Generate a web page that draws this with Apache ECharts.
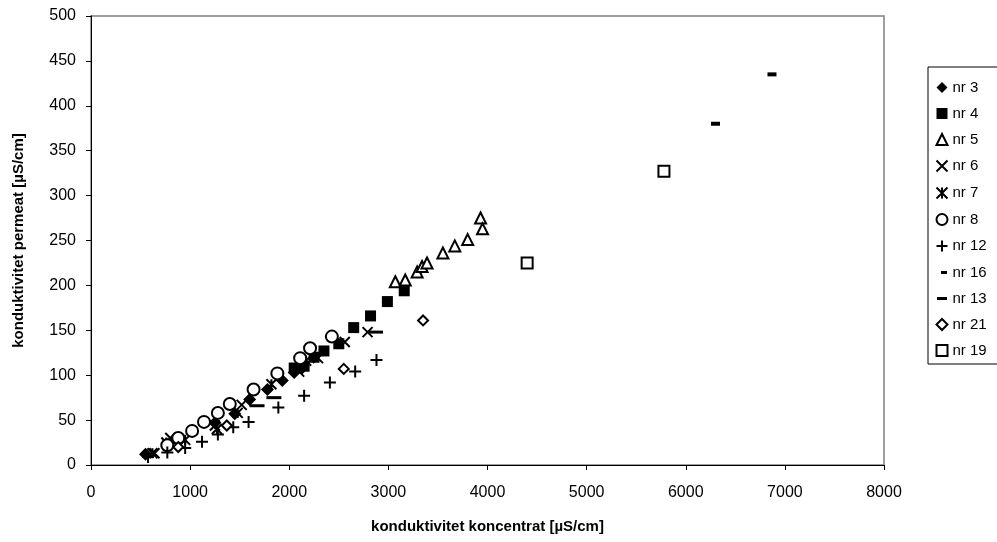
<!DOCTYPE html>
<html><head><meta charset="utf-8">
<script src="https://cdn.jsdelivr.net/npm/echarts@6/dist/echarts.min.js"></script>
<style>html,body{margin:0;padding:0;background:#fff}#c{width:997px;height:542px}</style>
</head><body><div id="c"></div>
<script>
const xTicks = [0,1000,2000,3000,4000,5000,6000,7000,8000];
const yTicks = [0,50,100,150,200,250,300,350,400,450,500];
const nr3 = [[550,12],[1250,47],[1450,57],[1600,73],[1780,84],[1930,94],[2050,103],[2130,108]];
const nr4 = [[2050,108],[2150,110],[2250,120],[2350,127],[2500,135],[2650,153],[2820,166],[2990,182],[3160,194]];
const nr5 = [[3070,204],[3170,206],[3290,215],[3340,221],[3390,225],[3550,236],[3670,244],[3800,251],[3930,275],[3950,263]];
const nr6 = [[640,13],[800,30],[1250,44],[1520,67],[2100,104],[2290,119],[2560,137],[2790,148]];
const nr7 = [[620,13],[760,25],[950,28],[1270,40],[1480,58],[1820,90],[2170,116]];
const nr8 = [[770,22],[880,30],[1020,38],[1140,48],[1280,58],[1400,68],[1640,84],[1880,102],[2110,119],[2210,130],[2430,143]];
const nr12 = [[575,9],[770,14],[950,19],[1120,26],[1280,34],[1435,42],[1590,48],[1890,64],[2150,77],[2410,92],[2665,104],[2880,117]];
const nr16 = [[6300,380],[6870,435]];
const nr13 = [[1675,66],[1845,75],[2870,148]];
const nr21 = [[880,20],[1370,44],[2550,107],[3350,161]];
const nr19 = [[4400,225],[5780,327]];

const FONT = 'Liberation Sans, Arial, sans-serif';
const filled = {color:'#000', opacity:1};
const hollow = {color:'#fff', borderColor:'#000', borderWidth:2, opacity:1};
const stroke = {color:'none', borderColor:'#000', borderWidth:2, opacity:1};
function s(name, data, symbol, size, style){
  return {name, type:'scatter', data, symbol, symbolSize:size, itemStyle:style, z:3};
}
const series = [
  s('nr 3', nr3, 'diamond', 13, filled),
  s('nr 4', nr4, 'rect', 11, filled),
  s('nr 5', nr5, 'triangle', 11, hollow),
  s('nr 6', nr6, 'path://M0,0L10,10M10,0L0,10', 10, stroke),
  s('nr 7', nr7, 'path://M0,0L10,10M10,0L0,10M5,0L5,10', 10, stroke),
  s('nr 8', nr8, 'circle', 12, hollow),
  s('nr 12', nr12, 'path://M5,0L5,10M0,5L10,5', 12, stroke),
  s('nr 16', nr16, 'rect', [9,4], filled),
  s('nr 13', nr13, 'rect', [15,3], filled),
  s('nr 21', nr21, 'diamond', 10, hollow),
  s('nr 19', nr19, 'rect', 11, hollow)
];
const legendIcons = {
  'nr 16': 'path://M0,0M4,4L10,4L10,7L4,7ZM10,11',
  'nr 13': 'path://M0,0M0,4L10,4L10,7L0,7ZM10,11'
};
const chart = echarts.init(document.getElementById('c'), null, {renderer:'canvas'});
chart.setOption({
  animation:false,
  backgroundColor:'#fff',
  textStyle:{fontFamily:FONT},
  grid:{left:91, right:113, top:16, bottom:77, show:true, borderColor:'#808080', borderWidth:1.5},
  xAxis:{type:'value', min:xTicks[0], max:xTicks[xTicks.length-1], interval:1000,
    name:'konduktivitet koncentrat [µS/cm]', nameLocation:'middle', nameGap:54,
    nameTextStyle:{fontWeight:'bold', fontSize:15, color:'#000', fontFamily:FONT},
    axisLine:{lineStyle:{color:'#000', width:1}}, axisTick:{length:5, lineStyle:{color:'#000'}},
    axisLabel:{fontSize:16, color:'#000', margin:20, fontFamily:FONT, formatter:v=>String(v)}, splitLine:{show:false}},
  yAxis:{type:'value', min:yTicks[0], max:yTicks[yTicks.length-1], interval:50,
    name:'konduktivitet permeat [µS/cm]', nameLocation:'middle', nameGap:65, nameRotate:90,
    nameTextStyle:{fontWeight:'bold', fontSize:15, color:'#000', fontFamily:FONT},
    axisLine:{lineStyle:{color:'#000', width:1}}, axisTick:{length:5, lineStyle:{color:'#000'}},
    axisLabel:{fontSize:16, color:'#000', margin:15, fontFamily:FONT, formatter:v=>String(v)}, splitLine:{show:false}},
  legend:{orient:'vertical', left:928, top:67, borderColor:'#000', borderWidth:1,
    padding:[13,40,6,6], itemGap:11, itemWidth:11, itemHeight:11,
    textStyle:{fontSize:15, color:'#000', fontFamily:FONT},
    data:series.map(x=>legendIcons[x.name] ? {name:x.name, icon:legendIcons[x.name]} : x.name)},
  series
});
</script></body></html>
